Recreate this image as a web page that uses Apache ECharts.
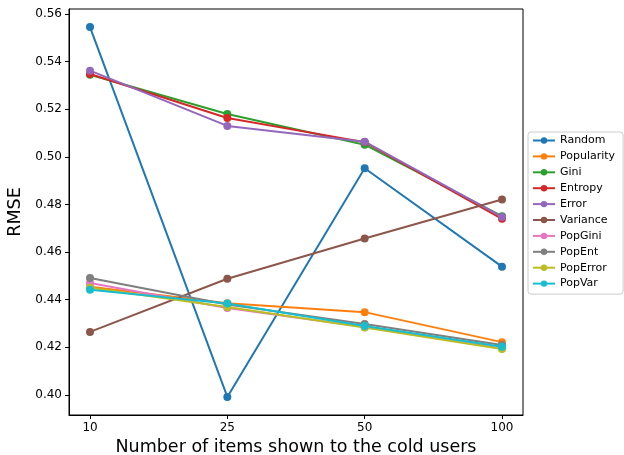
<!DOCTYPE html>
<html><head><meta charset="utf-8">
<script src="https://cdn.jsdelivr.net/npm/echarts@6/dist/echarts.min.js"></script>
<style>html,body{margin:0;padding:0;background:#fff}#c{width:624px;height:455px}</style>
</head><body><div id="c"></div>
<script>
const categories = ['10', '25', '50', '100'];
const seriesNames = ['Random','Popularity','Gini','Entropy','Error','Variance','PopGini','PopEnt','PopError','PopVar'];
const Random     = [0.5545, 0.3992, 0.4952, 0.4539];
const Popularity = [0.4455, 0.4385, 0.4348, 0.4222];
const Gini       = [0.5345, 0.5180, 0.5051, 0.4751];
const Entropy    = [0.5348, 0.5163, 0.5062, 0.4740];
const ErrorS     = [0.5362, 0.5130, 0.5064, 0.4748];
const Variance   = [0.4265, 0.4488, 0.4657, 0.4821];
const PopGini    = [0.4470, 0.4365, 0.4285, 0.4195];
const PopEnt     = [0.4491, 0.4380, 0.4298, 0.4210];
const PopError   = [0.4450, 0.4370, 0.4283, 0.4193];
const PopVar     = [0.4442, 0.4384, 0.4290, 0.4203];
const yTicks = [0.40, 0.42, 0.44, 0.46, 0.48, 0.50, 0.52, 0.54, 0.56];

const values = [Random, Popularity, Gini, Entropy, ErrorS, Variance, PopGini, PopEnt, PopError, PopVar];
const colors = ['#1f77b4','#ff7f0e','#2ca02c','#d62728','#9467bd','#8c564b','#e377c2','#7f7f7f','#bcbd22','#17becf'];
const font = 'DejaVu Sans';
const chart = echarts.init(document.getElementById('c'), null, {renderer:'canvas'});
chart.setOption({
  animation: false,
  color: colors,
  grid: {left: 69, right: 101, top: 9, bottom: 40, show: true, borderColor: '#000', borderWidth: 1, containLabel: false, outerBoundsMode: 'none'},
  xAxis: {
    type: 'value', min: -0.153, max: 3.153,
    name: 'Number of items shown to the cold users', nameLocation: 'middle', nameGap: 23,
    nameTextStyle: {fontFamily: font, fontSize: 17.5, color: '#000'},
    axisLine: {show: true, onZero: false, lineStyle: {color: '#000'}},
    axisTick: {show: true, customValues: [0,1,2,3], length: 4, lineStyle: {color: '#000'}},
    axisLabel: {customValues: [0,1,2,3], formatter: v => categories[Math.round(v)], fontFamily: font, fontSize: 12, color: '#000', margin: 7},
    splitLine: {show: false}
  },
  yAxis: {
    type: 'value', min: 0.3916, max: 0.5621,
    name: 'RMSE', nameLocation: 'middle', nameGap: 45,
    nameTextStyle: {fontFamily: font, fontSize: 17.5, color: '#000'},
    axisLine: {show: true, onZero: false, lineStyle: {color: '#000'}},
    axisTick: {show: true, customValues: yTicks, length: 4, lineStyle: {color: '#000'}},
    axisLabel: {customValues: yTicks, formatter: v => v.toFixed(2), fontFamily: font, fontSize: 12, color: '#000', margin: 7},
    splitLine: {show: false}
  },
  legend: {
    orient: 'vertical', left: 528, top: 132,
    data: seriesNames,
    itemWidth: 22, itemHeight: 8, itemGap: 4.9,
    padding: [3, 8, 5, 4],
    borderColor: '#ccc', borderWidth: 1, borderRadius: 3,
    textStyle: {fontFamily: font, fontSize: 11, color: '#000'}
  },
  series: seriesNames.map((n, i) => ({
    name: n, type: 'line',
    data: values[i].map((v, j) => [j, v]),
    symbol: 'circle', symbolSize: 8, showSymbol: true,
    lineStyle: {width: 2}, itemStyle: {color: colors[i]}
  }))
});
</script></body></html>
